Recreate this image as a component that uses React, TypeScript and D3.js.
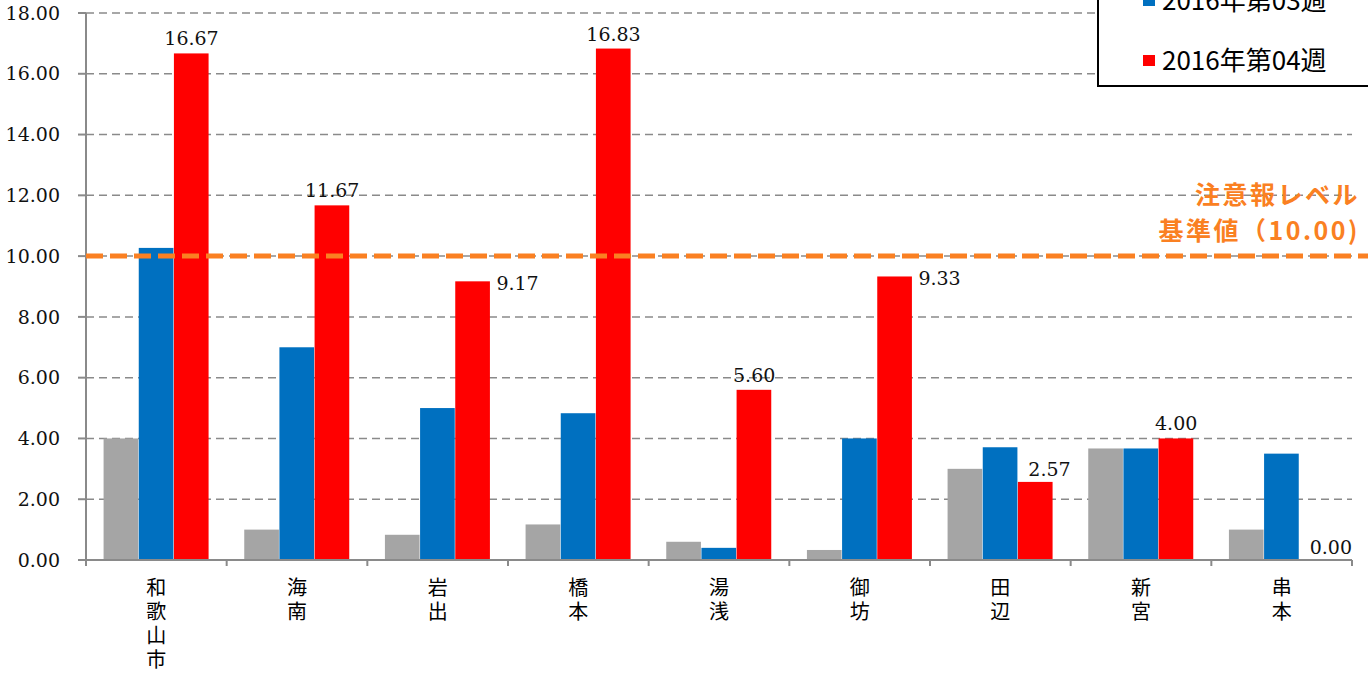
import React from "react";
import * as d3 from "d3";

const categories = ["和歌山市", "海南", "岩出", "橋本", "湯浅", "御坊", "田辺", "新宮", "串本"];
const seriesNames = ["2016年第02週", "2016年第03週", "2016年第04週"];
const week02 = [4.0, 1.0, 0.83, 1.17, 0.6, 0.33, 3.0, 3.67, 1.0];
const week03 = [10.27, 7.0, 5.0, 4.83, 0.4, 4.0, 3.71, 3.67, 3.5];
const week04 = [16.67, 11.67, 9.17, 16.83, 5.6, 9.33, 2.57, 4.0, 0.0];
const labelModes = ["top", "top", "right", "top", "top", "right", "topright", "top", "topright"];
const yTicks = [0, 2, 4, 6, 8, 10, 12, 14, 16, 18];
const thresholdValue = 10;
const thresholdLines = ["注意報レベル", "基準値（10.00)"];

const colors = ["#A5A5A5", "#0070C0", "#FF0000"];
const orange = "#FA8022";
const W = 1368;
const H = 675;
const left = 86;
const right = 1352;
const top = 13;
const bottom = 560;

export default function App() {
  const series = [week02, week03, week04];
  const y = d3.scaleLinear().domain([0, 18]).range([bottom, top]);
  const x = d3.scaleBand<string>().domain(categories).range([left, right]).padding(0);
  const inner = d3
    .scaleBand<number>()
    .domain([0, 1, 2])
    .range([0, x.bandwidth()])
    .paddingInner(0)
    .paddingOuter(0.5);
  const serif = "'DejaVu Serif', 'Liberation Serif', serif";
  const sans = "'Noto Sans CJK JP', 'Noto Sans', sans-serif";

  return (
    <svg
      width={W}
      height={H}
      style={{ position: "absolute", left: 0, top: 0, background: "#fff" }}
    >
      {/* gridlines */}
      {yTicks.slice(1).map((t) => (
        <line
          key={"g" + t}
          x1={left}
          x2={right}
          y1={y(t)}
          y2={y(t)}
          stroke="#8a8a8a"
          strokeWidth={1.5}
          strokeDasharray="8,5"
        />
      ))}
      {/* bars */}
      {series.map((vals, si) =>
        vals.map((v, ci) => (
          <rect
            key={si + "-" + ci}
            x={(x(categories[ci]) as number) + (inner(si) as number)}
            y={y(v)}
            width={inner.bandwidth() - 0.5}
            height={bottom - y(v)}
            fill={colors[si]}
          />
        ))
      )}
      {/* axes */}
      <line x1={left} x2={left} y1={top} y2={bottom} stroke="#8a8a8a" strokeWidth={2} />
      <line x1={left - 8} x2={right} y1={bottom} y2={bottom} stroke="#8a8a8a" strokeWidth={2} />
      {yTicks.map((t) => (
        <g key={"t" + t}>
          <line x1={left - 8} x2={left} y1={y(t)} y2={y(t)} stroke="#8a8a8a" strokeWidth={2} />
          <text
            x={60}
            y={y(t)}
            dy="0.35em"
            textAnchor="end"
            fontFamily={serif}
            fontSize={19}
            fill="#111"
          >
            {t.toFixed(2)}
          </text>
        </g>
      ))}
      {categories.concat([""]).map((c, i) => {
        const xx = i < categories.length ? (x(c) as number) : right;
        return (
          <line key={"xt" + i} x1={xx} x2={xx} y1={bottom} y2={bottom + 6} stroke="#8a8a8a" strokeWidth={2} />
        );
      })}
      {categories.map((c) => (
        <text
          key={"c" + c}
          x={(x(c) as number) + x.bandwidth() / 2}
          y={577}
          fontFamily={sans}
          fontSize={20}
          letterSpacing={4}
          fill="#000"
          style={{ writingMode: "vertical-rl" }}
        >
          {c}
        </text>
      ))}
      {/* threshold */}
      <line
        x1={left}
        x2={W}
        y1={y(thresholdValue)}
        y2={y(thresholdValue)}
        stroke={orange}
        strokeWidth={5}
        strokeDasharray="17,7"
      />
      {thresholdLines.map((t, i) => (
        <text
          key={"th" + i}
          x={1360}
          y={204 + i * 36}
          textAnchor="end"
          fontFamily={sans}
          fontWeight="bold"
          fontSize={25}
          letterSpacing={2.5}
          fill={orange}
        >
          {t}
        </text>
      ))}
      {/* data labels */}
      {week04.map((v, ci) => {
        const bx = (x(categories[ci]) as number) + (inner(2) as number);
        const bw = inner.bandwidth();
        const mode = labelModes[ci];
        let lx = bx + bw / 2;
        let ly = y(v) - 8;
        let anchor: "middle" | "start" = "middle";
        if (mode === "right") {
          lx = bx + bw + 6;
          ly = y(v) + 9;
          anchor = "start";
        } else if (mode === "topright") {
          lx = bx + bw / 2 + 14;
          ly = y(v) - 6;
        }
        return (
          <text
            key={"l" + ci}
            x={lx}
            y={ly}
            textAnchor={anchor}
            fontFamily={serif}
            fontSize={19}
            fill="#111"
          >
            {v.toFixed(2)}
          </text>
        );
      })}
      {/* legend */}
      <rect x={1098} y={-110} width={300} height={196} fill="#fff" stroke="#000" strokeWidth={2} />
      {seriesNames.map((n, i) => (
        <g key={"lg" + i}>
          <rect x={1143} y={-65 + i * 60} width={12} height={11} fill={colors[i]} />
          <text x={1162} y={-50 + i * 60} fontFamily={sans} fontSize={26} fill="#000">
            {n}
          </text>
        </g>
      ))}
    </svg>
  );
}
